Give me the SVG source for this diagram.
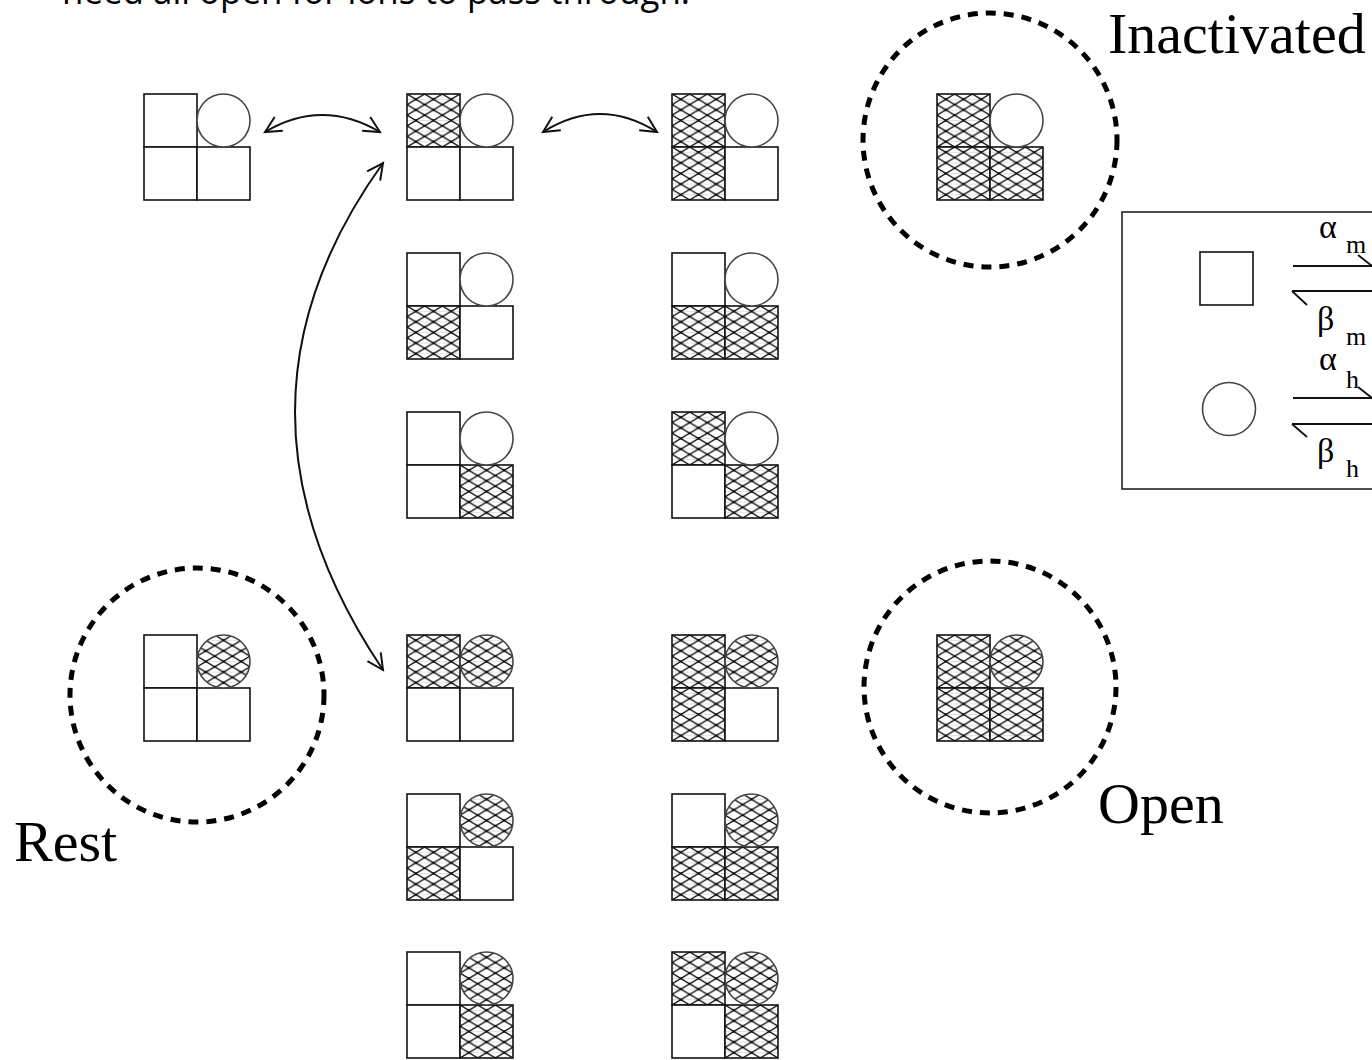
<svg xmlns="http://www.w3.org/2000/svg" width="1372" height="1060" viewBox="0 0 1372 1060">
<defs>
<pattern id="hatch" patternUnits="userSpaceOnUse" width="17.67" height="10.6">
<rect width="17.67" height="10.6" fill="#fff"/>
<path d="M0 5.3 H17.67" stroke="#ccc" stroke-width="0.6"/>
<path d="M0 0 L17.67 10.6 M0 10.6 L17.67 0" stroke="#000" stroke-width="1.3" fill="none"/>
<circle cx="8.83" cy="5.3" r="1.1" fill="#000"/>
<circle cx="0" cy="0" r="1.1" fill="#000"/>
<circle cx="17.67" cy="0" r="1.1" fill="#000"/>
<circle cx="0" cy="10.6" r="1.1" fill="#000"/>
<circle cx="17.67" cy="10.6" r="1.1" fill="#000"/>
</pattern>
<marker id="arr" viewBox="-18 -10 22 20" refX="0" refY="0" markerWidth="22" markerHeight="20" markerUnits="userSpaceOnUse" orient="auto-start-reverse">
<path d="M-16 -8 L0 0 L-16 8" fill="none" stroke="#111" stroke-width="2"/>
</marker>
</defs>
<style>
.sq{fill:#fff;stroke:#111;stroke-width:1.6}
.ci{fill:#fff;stroke:#444;stroke-width:1.6}
.h{fill:url(#hatch)}
.dash{fill:none;stroke:#000;stroke-width:5;stroke-dasharray:10 8}
.lbl{font-family:"Liberation Serif",serif;font-size:58px;fill:#000}
.gk{font-family:"Liberation Serif",serif;font-size:34px;fill:#000}
.sub{font-family:"Liberation Serif",serif;font-size:26px;fill:#000}
.conn{fill:none;stroke:#111;stroke-width:2}
</style>

<text x="62" y="4" font-family="Open Sans, Liberation Sans, sans-serif" font-size="36" textLength="628" lengthAdjust="spacingAndGlyphs" fill="#000">need all open for ions to pass through.</text>

<circle class="dash" cx="990" cy="140" r="127"/>
<circle class="dash" cx="197" cy="695" r="127"/>
<circle class="dash" cx="990" cy="687" r="126"/>

<text class="lbl" x="1108" y="53">Inactivated</text>
<text class="lbl" x="14" y="861">Rest</text>
<text class="lbl" x="1098" y="823">Open</text>

<g id="n1" transform="translate(144,94)"><rect class="sq" x="0" y="0" width="53" height="53"/><rect class="sq" x="0" y="53" width="53" height="53"/><rect class="sq" x="53" y="53" width="53" height="53"/><circle class="ci" cx="79.5" cy="26.5" r="26.5"/></g>
<g id="n2" transform="translate(407,94)"><rect class="sq h" x="0" y="0" width="53" height="53"/><rect class="sq" x="0" y="53" width="53" height="53"/><rect class="sq" x="53" y="53" width="53" height="53"/><circle class="ci" cx="79.5" cy="26.5" r="26.5"/></g>
<g id="n3" transform="translate(672,94)"><rect class="sq h" x="0" y="0" width="53" height="53"/><rect class="sq h" x="0" y="53" width="53" height="53"/><rect class="sq" x="53" y="53" width="53" height="53"/><circle class="ci" cx="79.5" cy="26.5" r="26.5"/></g>
<g id="inactivated" transform="translate(937,94)"><rect class="sq h" x="0" y="0" width="53" height="53"/><rect class="sq h" x="0" y="53" width="53" height="53"/><rect class="sq h" x="53" y="53" width="53" height="53"/><circle class="ci" cx="79.5" cy="26.5" r="26.5"/></g>
<g id="n5" transform="translate(407,253)"><rect class="sq" x="0" y="0" width="53" height="53"/><rect class="sq h" x="0" y="53" width="53" height="53"/><rect class="sq" x="53" y="53" width="53" height="53"/><circle class="ci" cx="79.5" cy="26.5" r="26.5"/></g>
<g id="n6" transform="translate(672,253)"><rect class="sq" x="0" y="0" width="53" height="53"/><rect class="sq h" x="0" y="53" width="53" height="53"/><rect class="sq h" x="53" y="53" width="53" height="53"/><circle class="ci" cx="79.5" cy="26.5" r="26.5"/></g>
<g id="n7" transform="translate(407,412)"><rect class="sq" x="0" y="0" width="53" height="53"/><rect class="sq" x="0" y="53" width="53" height="53"/><rect class="sq h" x="53" y="53" width="53" height="53"/><circle class="ci" cx="79.5" cy="26.5" r="26.5"/></g>
<g id="n8" transform="translate(672,412)"><rect class="sq h" x="0" y="0" width="53" height="53"/><rect class="sq" x="0" y="53" width="53" height="53"/><rect class="sq h" x="53" y="53" width="53" height="53"/><circle class="ci" cx="79.5" cy="26.5" r="26.5"/></g>
<g id="rest" transform="translate(144,635)"><rect class="sq" x="0" y="0" width="53" height="53"/><rect class="sq" x="0" y="53" width="53" height="53"/><rect class="sq" x="53" y="53" width="53" height="53"/><circle class="ci h" cx="79.5" cy="26.5" r="26.5"/></g>
<g id="n10" transform="translate(407,635)"><rect class="sq h" x="0" y="0" width="53" height="53"/><rect class="sq" x="0" y="53" width="53" height="53"/><rect class="sq" x="53" y="53" width="53" height="53"/><circle class="ci h" cx="79.5" cy="26.5" r="26.5"/></g>
<g id="n11" transform="translate(672,635)"><rect class="sq h" x="0" y="0" width="53" height="53"/><rect class="sq h" x="0" y="53" width="53" height="53"/><rect class="sq" x="53" y="53" width="53" height="53"/><circle class="ci h" cx="79.5" cy="26.5" r="26.5"/></g>
<g id="open" transform="translate(937,635)"><rect class="sq h" x="0" y="0" width="53" height="53"/><rect class="sq h" x="0" y="53" width="53" height="53"/><rect class="sq h" x="53" y="53" width="53" height="53"/><circle class="ci h" cx="79.5" cy="26.5" r="26.5"/></g>
<g id="n13" transform="translate(407,794)"><rect class="sq" x="0" y="0" width="53" height="53"/><rect class="sq h" x="0" y="53" width="53" height="53"/><rect class="sq" x="53" y="53" width="53" height="53"/><circle class="ci h" cx="79.5" cy="26.5" r="26.5"/></g>
<g id="n14" transform="translate(672,794)"><rect class="sq" x="0" y="0" width="53" height="53"/><rect class="sq h" x="0" y="53" width="53" height="53"/><rect class="sq h" x="53" y="53" width="53" height="53"/><circle class="ci h" cx="79.5" cy="26.5" r="26.5"/></g>
<g id="n15" transform="translate(407,952)"><rect class="sq" x="0" y="0" width="53" height="53"/><rect class="sq" x="0" y="53" width="53" height="53"/><rect class="sq h" x="53" y="53" width="53" height="53"/><circle class="ci h" cx="79.5" cy="26.5" r="26.5"/></g>
<g id="n16" transform="translate(672,952)"><rect class="sq h" x="0" y="0" width="53" height="53"/><rect class="sq" x="0" y="53" width="53" height="53"/><rect class="sq h" x="53" y="53" width="53" height="53"/><circle class="ci h" cx="79.5" cy="26.5" r="26.5"/></g>

<g id="connectors">
<path class="conn" d="M265 132 Q322 98 380 132" marker-start="url(#arr)" marker-end="url(#arr)"/>
<path class="conn" d="M543 132 Q600 96 657 132" marker-start="url(#arr)" marker-end="url(#arr)"/>
<path class="conn" d="M383 163 Q207 408 383 670" marker-start="url(#arr)" marker-end="url(#arr)"/>
</g>

<g id="legend">
<rect x="1122" y="212" width="260" height="277" fill="#fff" stroke="#222" stroke-width="1.6"/>
<rect class="sq" x="1200" y="252" width="53" height="53"/>
<circle class="ci" cx="1229" cy="409" r="26.5"/>
<path d="M1293 266 H1372 M1358 255 L1372 266 M1292 291 H1372 M1292 291 L1307 305 M1293 398 H1372 M1358 387 L1372 398 M1292 424 H1372 M1292 424 L1307 437" fill="none" stroke="#111" stroke-width="1.8"/>
<text class="gk" x="1319" y="238">α</text><text class="sub" x="1346" y="253">m</text>
<text class="gk" x="1317" y="330">β</text><text class="sub" x="1346" y="345">m</text>
<text class="gk" x="1319" y="370">α</text><text class="sub" x="1346" y="388">h</text>
<text class="gk" x="1317" y="462">β</text><text class="sub" x="1346" y="477">h</text>
</g>
</svg>
